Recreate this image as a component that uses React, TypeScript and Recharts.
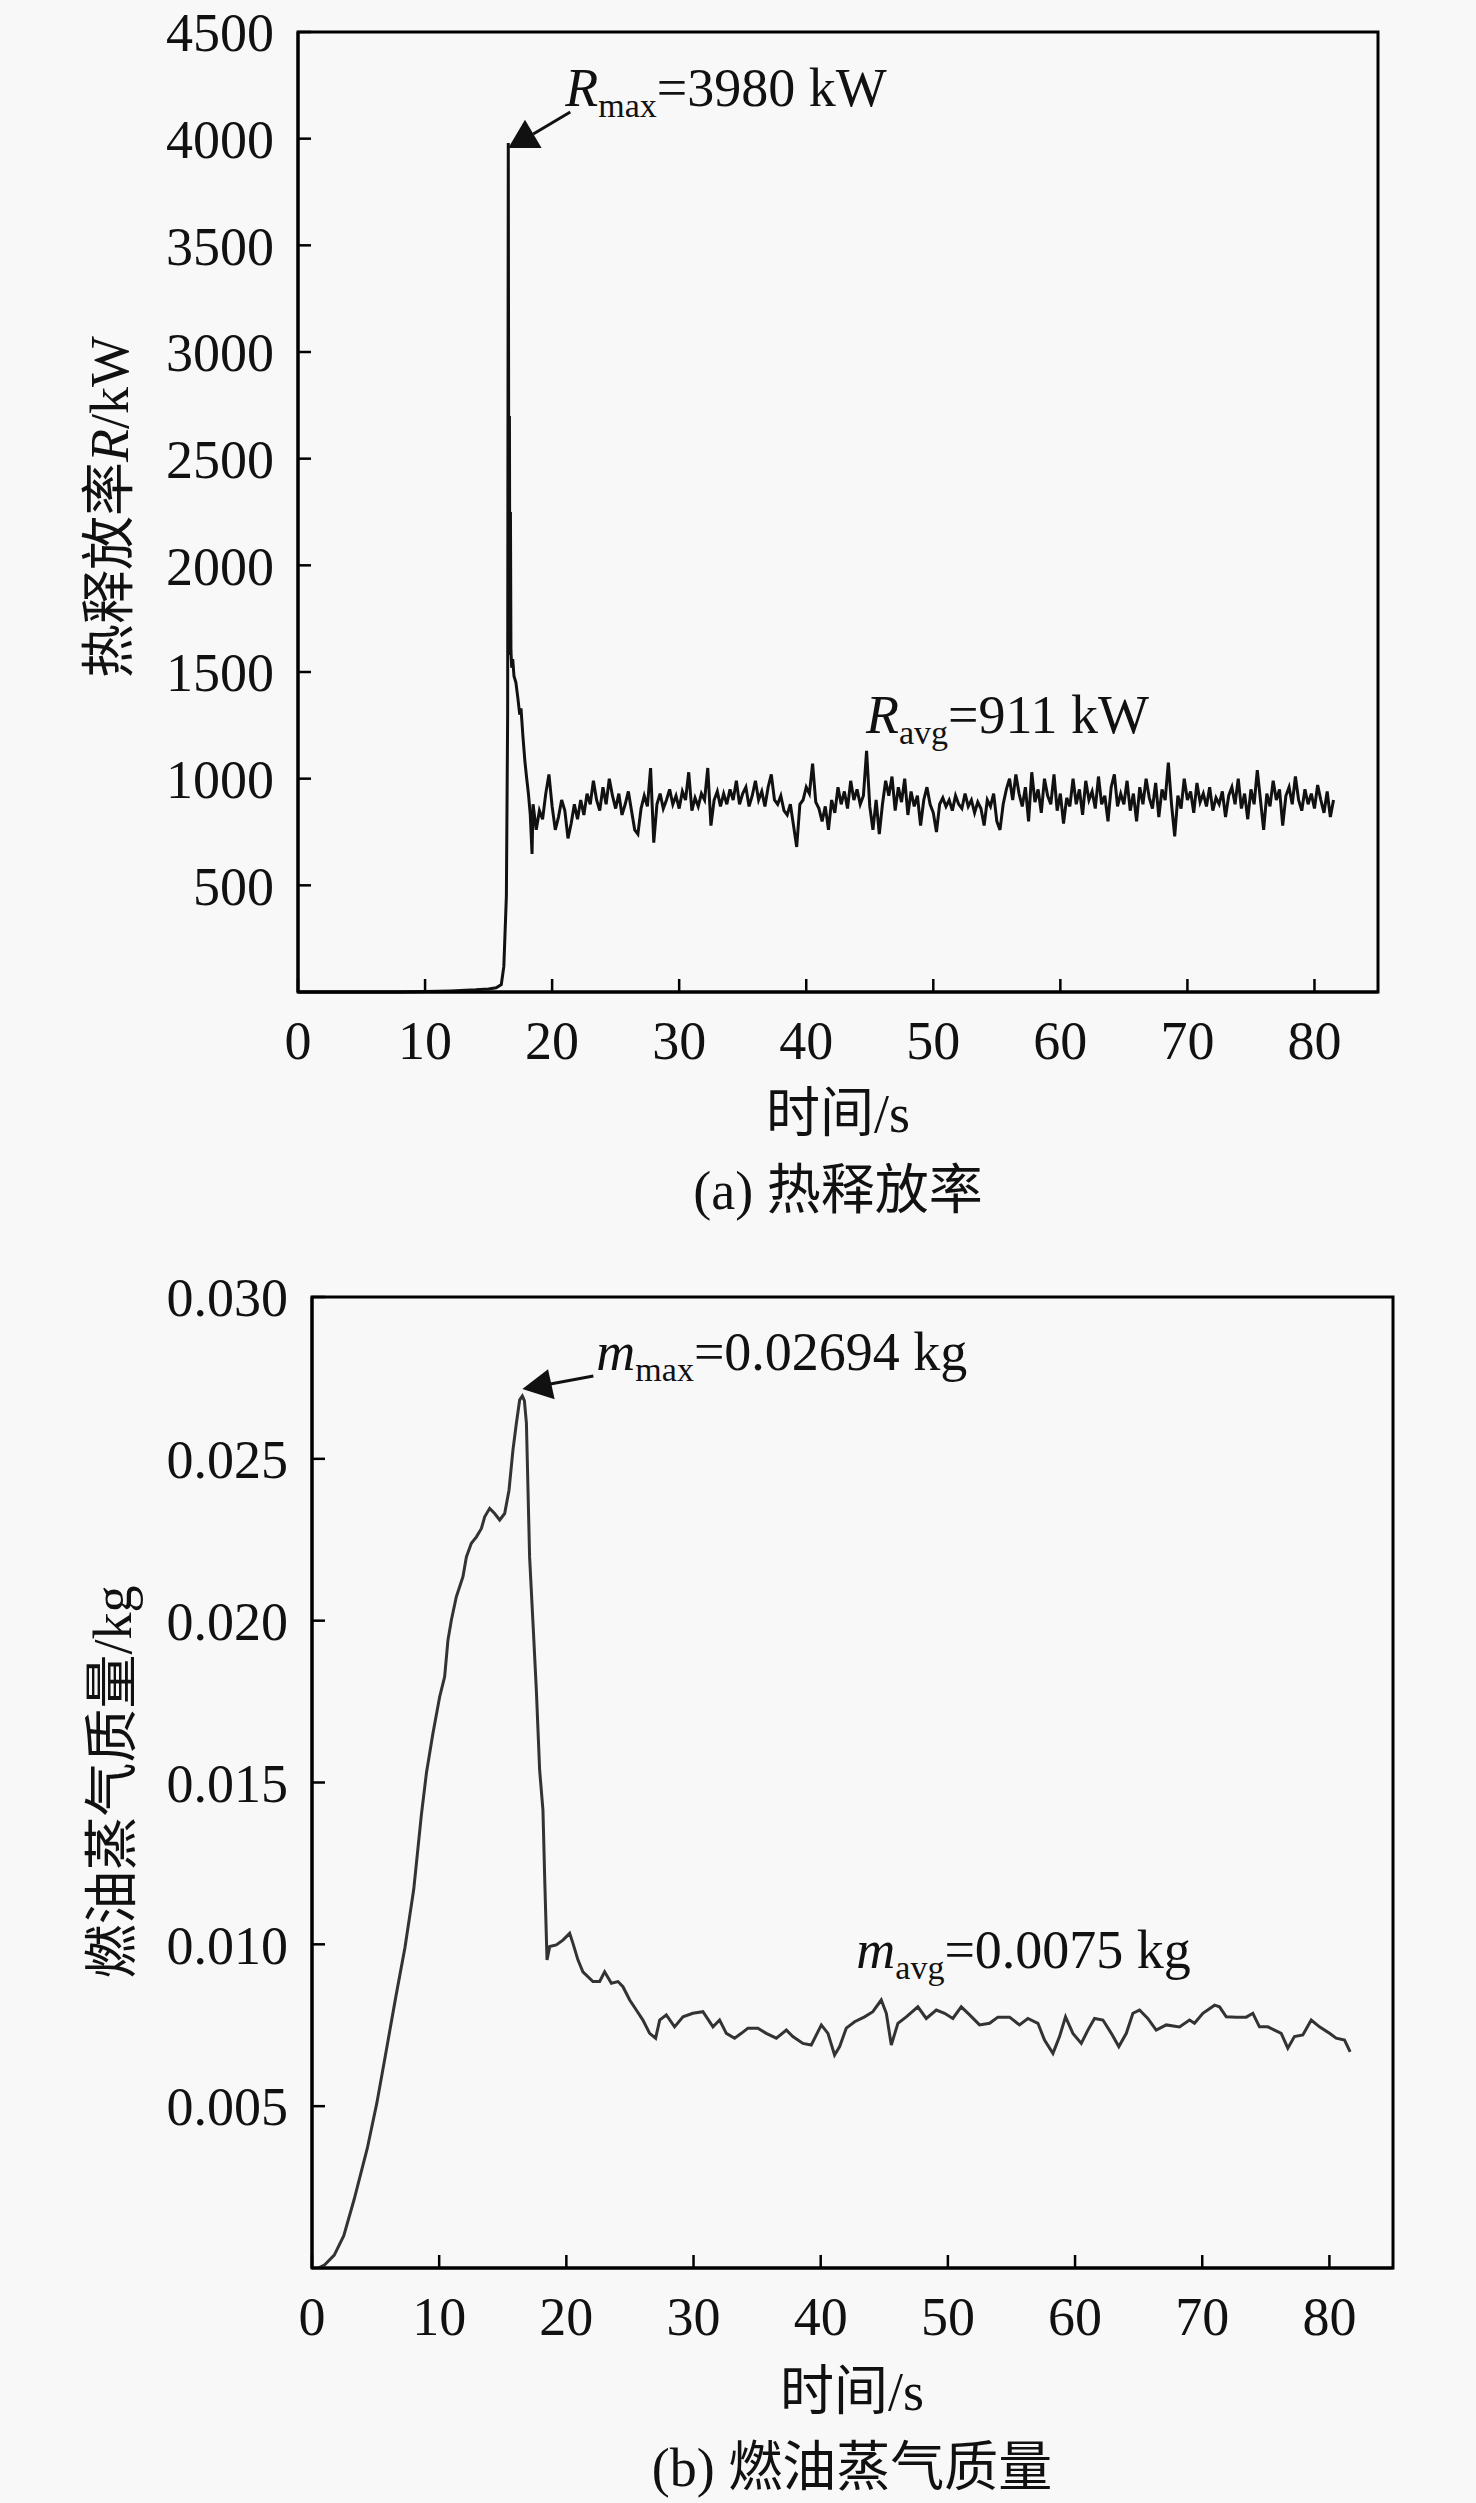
import React from "react";
import { LineChart, Line, XAxis, YAxis, ReferenceArea, ReferenceDot } from "recharts";

const FONT = '"Liberation Serif", "Times New Roman", "Noto Sans CJK SC", serif';
const INK = "#111";
const PAPER = "#f8f8f8";

// (a) heat release rate R, kW — ignition and the spike
const hrrTime = [0, 4, 8, 12, 14, 15, 15.6, 16.0, 16.2, 16.4, 16.5, 16.55, 16.6, 16.64, 16.68, 16.72, 16.76, 16.82, 16.9, 17.0, 17.15, 17.3, 17.45, 17.55, 17.7, 17.86, 18.0, 18.14, 18.28, 18.42];
const hrrValue = [0, 0, 0, 5, 10, 14, 20, 35, 120, 450, 1300, 3980, 1650, 2700, 1580, 2250, 1600, 1520, 1560, 1480, 1450, 1380, 1300, 1330, 1200, 1080, 1000, 926, 832, 647];

// (a) steady burning, one reading every 0.25 s from 18.5 s
const hrrNoiseStart = 18.5;
const hrrNoiseStep = 0.25;
const hrrNoise = [
  880, 760, 850, 810, 930, 1020, 870, 760, 820, 900, 850, 720, 790, 880, 810, 900, 830, 930, 880, 990,
  900, 850, 960, 880, 1000, 920, 860, 930, 830, 880, 940, 850, 760, 740, 860, 920, 870, 1050, 700, 880,
  930, 860, 900, 950, 880, 920, 860, 940, 900, 1030, 850, 910, 870, 930, 900, 1050, 780, 900, 940, 870,
  930, 880, 950, 900, 990, 880, 930, 960, 870, 920, 990, 900, 940, 870, 960, 1020, 900, 880, 920, 850,
  830, 880, 780, 680, 880, 900, 960, 930, 1070, 890, 860, 800, 870, 760, 900, 840, 960, 880, 940, 860,
  990, 900, 950, 880, 920, 1130, 870, 760, 900, 740, 880, 990, 920, 1010, 850, 960, 890, 1000, 830, 940,
  870, 920, 780, 900, 960, 880, 840, 750, 880, 910, 870, 900, 850, 920, 880, 860, 930, 870, 900, 840,
  890, 860, 780, 900, 870, 930, 800, 760, 880, 950, 1000, 900, 1020, 930, 870, 960, 800, 1030, 890, 950,
  840, 1000, 920, 880, 1020, 850, 930, 790, 910, 870, 1000, 880, 950, 830, 990, 900, 940, 860, 1010, 880,
  920, 800, 960, 1020, 870, 930, 880, 990, 850, 930, 800, 960, 880, 1000, 910, 860, 980, 820, 950, 900,
  1075, 880, 730, 920, 860, 1000, 900, 940, 840, 980, 890, 930, 870, 960, 850, 910, 880, 940, 820, 920,
  960, 880, 1000, 860, 930, 810, 950, 880, 1040, 900, 760, 930, 870, 990, 900, 950, 780, 920, 960, 880,
  1010, 900, 850, 950, 880, 930, 860, 970, 900, 840, 940, 820, 900,
];

// (b) fuel vapour mass, g (axis shows kg)
const vaporTime = [
  0.5, 1.0, 1.75, 2.5, 3.3, 4.35, 5.1, 5.83, 6.6, 7.31, 8.0, 8.6, 9.0, 9.5, 10.04, 10.43, 10.69, 10.96, 11.35, 11.87,
  12.14, 12.53, 12.93, 13.32, 13.58, 13.97, 14.36, 14.76, 15.15, 15.49, 15.8, 16.07, 16.33, 16.54, 16.7, 16.86, 17.11, 17.38, 17.64, 17.9,
  18.16, 18.3, 18.48, 18.69, 19.21, 19.73, 20.26, 20.52, 20.91, 21.3, 22.09, 22.62, 23.01, 23.54, 24.06, 24.45, 24.98, 25.5, 26.02, 26.55,
  27.02, 27.34, 27.86, 28.51, 29.17, 29.95, 30.74, 31.53, 32.05, 32.58, 33.23, 33.76, 34.28, 35.06, 35.72, 36.51, 37.3, 37.81, 38.6, 39.26,
  40.05, 40.57, 41.09, 41.49, 42.01, 42.67, 43.45, 44.1, 44.76, 45.16, 45.55, 46.07, 46.73, 47.64, 48.3, 49.09, 49.74, 50.39, 51.05, 51.71,
  52.49, 53.28, 53.93, 54.85, 55.63, 56.29, 57.08, 57.6, 58.26, 58.78, 59.25, 59.83, 60.49, 61.01, 61.53, 62.19, 62.85, 63.44, 64.03, 64.55,
  65.07, 65.72, 66.38, 67.17, 68.21, 69.0, 69.39, 70.05, 70.97, 71.36, 71.89, 72.67, 73.46, 73.98, 74.5, 75.16, 75.68, 76.21, 76.73, 77.25,
  77.91, 78.57, 79.22, 80.01, 80.53, 81.19, 81.63,
];
const vaporGram = [
  0, 0.1, 0.4, 1.0, 2.1, 3.7, 5.1, 6.7, 8.4, 9.9, 11.7, 14.0, 15.3, 16.5, 17.65, 18.27, 19.4, 20.02, 20.74, 21.36,
  21.97, 22.39, 22.59, 22.85, 23.21, 23.47, 23.31, 23.11, 23.31, 24.03, 25.27, 26.1, 26.82, 26.94, 26.8, 26.1, 21.97, 19.9, 17.86, 15.38,
  14.15, 12.0, 9.52, 9.93, 9.98, 10.13, 10.34, 10.03, 9.52, 9.15, 8.85, 8.85, 9.15, 8.8, 8.85, 8.69, 8.28, 7.97, 7.66, 7.25,
  7.1, 7.66, 7.82, 7.45, 7.76, 7.87, 7.92, 7.45, 7.66, 7.25, 7.1, 7.25, 7.41, 7.41, 7.25, 7.1, 7.35, 7.15, 6.94, 6.89,
  7.51, 7.25, 6.58, 6.84, 7.41, 7.61, 7.76, 7.92, 8.28, 7.87, 6.89, 7.56, 7.76, 8.07, 7.71, 7.97, 7.87, 7.71, 8.07, 7.82,
  7.51, 7.56, 7.75, 7.75, 7.51, 7.71, 7.56, 7.04, 6.63, 7.15, 7.76, 7.25, 6.94, 7.35, 7.71, 7.66, 7.25, 6.84, 7.25, 7.87,
  7.97, 7.71, 7.35, 7.51, 7.45, 7.66, 7.56, 7.87, 8.12, 8.07, 7.76, 7.75, 7.75, 7.87, 7.45, 7.45, 7.35, 7.25, 6.79, 7.15,
  7.2, 7.66, 7.45, 7.25, 7.1, 7.04, 6.68,
];

const timeTicks = [0, 10, 20, 30, 40, 50, 60, 70, 80];
const hrrTicks = [500, 1000, 1500, 2000, 2500, 3000, 3500, 4000, 4500];
const vaporTicks = [5, 10, 15, 20, 25, 30];

// annotation anchors (data coordinates)
const hrrPeak = { t: 16.55, v: 3980 };
const hrrAvgLabel = { t: 44.7, v: 1213 };
const vaporPeak = { t: 16.54, v: 26.94 };
const vaporAvgLabel = { t: 42.8, v: 9.26 };

const hrrData = [
  ...hrrTime.map((t, i) => ({ t, v: hrrValue[i] })),
  ...hrrNoise.map((v, i) => ({ t: hrrNoiseStart + i * hrrNoiseStep, v })),
];
const vaporData = vaporTime.map((t, i) => ({ t, v: vaporGram[i] }));

const tickStyle = { fontSize: 54, fill: INK, fontFamily: FONT };
const axisStroke = { stroke: "#000", strokeWidth: 3 };
const tickStroke = { stroke: "#000", strokeWidth: 2.5 };

function SubLabel({ x, y, main, sub, rest }: any) {
  return (
    <text x={x} y={y} fill={INK} fontFamily={FONT} fontSize={54}>
      <tspan fontStyle="italic">{main}</tspan>
      <tspan fontSize={34} dy={11}>{sub}</tspan>
      <tspan dy={-11}>{rest}</tspan>
    </text>
  );
}

const HrrPeakMark = ({ cx, cy }: any) => (
  <g>
    <line x1={cx + 25} y1={cy - 9} x2={cx + 62} y2={cy - 31} stroke={INK} strokeWidth={3} />
    <polygon points={`${cx},${cy + 5} ${cx + 16.7},${cy - 23.3} ${cx + 33.3},${cy + 5}`} fill={INK} />
    <SubLabel x={cx + 57} y={cy - 37} main="R" sub="max" rest="=3980 kW" />
  </g>
);

const HrrAvgMark = ({ cx, cy }: any) => <SubLabel x={cx} y={cy} main="R" sub="avg" rest="=911 kW" />;

const VaporPeakMark = ({ cx, cy }: any) => (
  <g>
    <line x1={cx + 28} y1={cy - 12} x2={cx + 71} y2={cy - 20} stroke={INK} strokeWidth={3} />
    <polygon points={`${cx},${cy - 7} ${cx + 25.7},${cy - 26.7} ${cx + 32.3},${cy + 3.3}`} fill={INK} />
    <SubLabel x={cx + 74} y={cy - 26} main="m" sub="max" rest="=0.02694 kg" />
  </g>
);

const VaporAvgMark = ({ cx, cy }: any) => <SubLabel x={cx} y={cy} main="m" sub="avg" rest="=0.0075 kg" />;

function Title({ x, y, rotate, children }: any) {
  return (
    <div
      style={{
        position: "absolute",
        left: x,
        top: y,
        transform: `translate(-50%, -50%)${rotate ? " rotate(-90deg)" : ""}`,
        whiteSpace: "nowrap",
        fontSize: 54,
        lineHeight: 1,
        color: INK,
        fontFamily: FONT,
      }}
    >
      {children}
    </div>
  );
}

export default function App() {
  return (
    <div style={{ position: "absolute", left: 0, top: 0, width: 1476, height: 2503, background: PAPER, fontFamily: FONT, overflow: "hidden" }}>
      <div style={{ position: "absolute", left: 0, top: 0 }}>
        <LineChart width={1476} height={1250} data={hrrData} margin={{ top: 32, right: 98, bottom: 0, left: 0 }}>
          <XAxis
            dataKey="t"
            type="number"
            domain={[0, 85]}
            ticks={timeTicks}
            interval={0}
            height={258}
            tickSize={-13}
            tickMargin={42}
            axisLine={axisStroke}
            tickLine={tickStroke}
            tick={tickStyle}
          />
          <YAxis
            type="number"
            domain={[0, 4500]}
            ticks={hrrTicks}
            interval={0}
            width={298}
            tickSize={-13}
            tickMargin={37}
            axisLine={axisStroke}
            tickLine={tickStroke}
            tick={tickStyle}
          />
          <ReferenceArea x1={0} x2={85} y1={0} y2={4500} fill="none" stroke="#000" strokeWidth={3} />
          <Line type="linear" dataKey="v" stroke="#111" strokeWidth={3} dot={false} isAnimationActive={false} />
          <ReferenceDot x={hrrPeak.t} y={hrrPeak.v} shape={HrrPeakMark} />
          <ReferenceDot x={hrrAvgLabel.t} y={hrrAvgLabel.v} shape={HrrAvgMark} />
        </LineChart>
      </div>
      <Title x={110} y={507} rotate>
        热释放率<i>R</i>/kW
      </Title>
      <Title x={838} y={1114}>时间/s</Title>
      <Title x={838} y={1191}>(a) 热释放率</Title>

      <div style={{ position: "absolute", left: 0, top: 1250 }}>
        <LineChart width={1476} height={1253} data={vaporData} margin={{ top: 47, right: 83, bottom: 0, left: 0 }}>
          <XAxis
            dataKey="t"
            type="number"
            domain={[0, 85]}
            ticks={timeTicks}
            interval={0}
            height={235}
            tickSize={-13}
            tickMargin={42}
            axisLine={axisStroke}
            tickLine={tickStroke}
            tick={tickStyle}
          />
          <YAxis
            type="number"
            domain={[0, 30]}
            ticks={vaporTicks}
            interval={0}
            width={312}
            tickSize={-13}
            tickMargin={37}
            tickFormatter={(g: number) => (g / 1000).toFixed(3)}
            axisLine={axisStroke}
            tickLine={tickStroke}
            tick={tickStyle}
          />
          <ReferenceArea x1={0} x2={85} y1={0} y2={30} fill="none" stroke="#000" strokeWidth={3} />
          <Line type="linear" dataKey="v" stroke="#333" strokeWidth={3} dot={false} isAnimationActive={false} />
          <ReferenceDot x={vaporPeak.t} y={vaporPeak.v} shape={VaporPeakMark} />
          <ReferenceDot x={vaporAvgLabel.t} y={vaporAvgLabel.v} shape={VaporAvgMark} />
        </LineChart>
      </div>
      <Title x={113} y={1782} rotate>
        燃油蒸气质量/kg
      </Title>
      <Title x={852} y={2392}>时间/s</Title>
      <Title x={852} y={2468}>(b) 燃油蒸气质量</Title>
    </div>
  );
}
